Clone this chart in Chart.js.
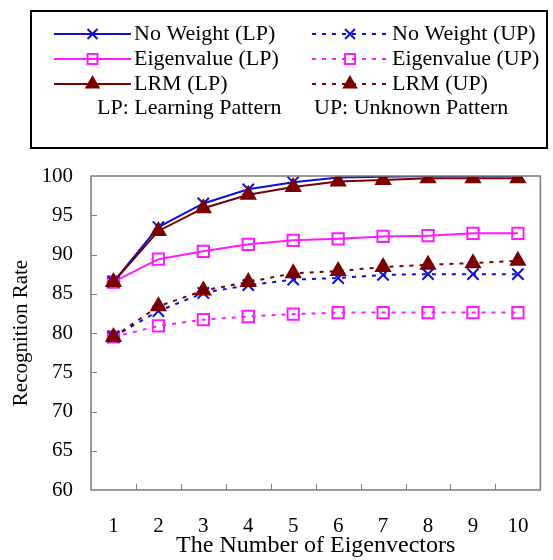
<!DOCTYPE html>
<html><head><meta charset="utf-8">
<script src="https://cdn.jsdelivr.net/npm/chart.js@4.4.1/dist/chart.umd.min.js"></script>
<style>html,body{margin:0;padding:0;background:#fff}#wrap{width:553px;height:560px;position:relative}</style>
</head><body><div id="wrap"><canvas id="c" width="553" height="560"></canvas></div>
<script>
const categories = ['1','2','3','4','5','6','7','8','9','10'];
const noWeightLP   = [86.5, 93.5, 96.5, 98.3, 99.2, 99.8, 99.9, 100, 100, 100];
const eigenLP      = [86.5, 89.4, 90.4, 91.3, 91.8, 92.0, 92.3, 92.4, 92.7, 92.7];
const lrmLP        = [86.5, 93.0, 95.9, 97.6, 98.6, 99.3, 99.5, 99.7, 99.7, 99.7];
const noWeightUP   = [79.5, 82.8, 85.1, 86.1, 86.8, 87.0, 87.4, 87.5, 87.5, 87.5];
const eigenUP      = [79.5, 80.9, 81.7, 82.1, 82.4, 82.6, 82.6, 82.6, 82.6, 82.6];
const lrmUP        = [79.5, 83.4, 85.4, 86.5, 87.6, 87.9, 88.4, 88.7, 88.9, 89.2];
const yMin = 60, yMax = 100, yStep = 5;

const BLUE = '#1010d0', MAG = '#ff1aff', RED = '#7a0000';
const FONT = "'Liberation Serif', 'Times New Roman', serif";
const DASH = [4, 6];

function ds(label, data, color, style, dashed, order) {
  return {
    label, data, order,
    borderColor: color, backgroundColor: style === 'triangle' ? color : '#fff',
    pointBorderColor: color,
    pointBackgroundColor: style === 'triangle' ? color : 'rgba(255,255,255,0)',
    pointStyle: style,
    pointRadius: style === 'crossRot' ? 8 : (style === 'rect' ? 8 : 8),
    pointBorderWidth: 2,
    borderWidth: 2,
    borderDash: dashed ? DASH : [],
    tension: 0, fill: false
  };
}

const datasets = [
  ds('No Weight (LP)', noWeightLP, BLUE, 'crossRot', false, 1),
  ds('No Weight (UP)', noWeightUP, BLUE, 'crossRot', true, 1),
  ds('Eigenvalue (LP)', eigenLP, MAG, 'rect', false, 2),
  ds('Eigenvalue (UP)', eigenUP, MAG, 'rect', true, 2),
  ds('LRM (LP)', lrmLP, RED, 'triangle', false, 0),
  ds('LRM (UP)', lrmUP, RED, 'triangle', true, 0)
];

const framePlugin = {
  id: 'frame',
  afterDraw(chart) {
    const ctx = chart.ctx, a = chart.chartArea;
    const xs = chart.scales.x, ys = chart.scales.y;
    ctx.save();
    ctx.strokeStyle = '#7a7a7a';
    ctx.lineWidth = 1.5;
    ctx.strokeRect(a.left, a.top, a.right - a.left, a.bottom - a.top);
    ctx.lineWidth = 1;
    ctx.beginPath();
    for (let v = yMin + yStep; v < yMax; v += yStep) {
      const y = Math.round(ys.getPixelForValue(v)) + 0.5;
      ctx.moveTo(a.left, y); ctx.lineTo(a.left + 6, y);
    }
    for (let i = 1; i < categories.length; i++) {
      const x = Math.round((xs.getPixelForTick(i - 1) + xs.getPixelForTick(i)) / 2) + 0.5;
      ctx.moveTo(x, a.bottom); ctx.lineTo(x, a.bottom - 6);
    }
    ctx.stroke();
    ctx.restore();
  }
};

const legendPlugin = {
  id: 'boxLegend',
  afterDraw(chart) {
    const ctx = chart.ctx;
    ctx.save();
    ctx.strokeStyle = '#000';
    ctx.lineWidth = 2;
    ctx.strokeRect(31, 11, 516, 137);
    ctx.font = '22px ' + FONT;
    ctx.fillStyle = '#000';
    ctx.textBaseline = 'middle';
    const rows = [34, 59, 84];
    const cols = [{x0: 54, x1: 131, tx: 134}, {x0: 312, x1: 388, tx: 392}];
    const order = [[0, 1], [2, 3], [4, 5]];
    order.forEach((pair, r) => {
      pair.forEach((di, c) => {
        const d = chart.data.datasets[di];
        const col = cols[c], y = rows[r];
        ctx.save();
        ctx.strokeStyle = d.borderColor;
        ctx.lineWidth = 2;
        ctx.setLineDash(d.borderDash);
        ctx.beginPath(); ctx.moveTo(col.x0, y); ctx.lineTo(col.x1, y); ctx.stroke();
        ctx.restore();
        ctx.save();
        ctx.setLineDash([]);
        ctx.strokeStyle = d.borderColor; ctx.fillStyle = d.pointBackgroundColor;
        ctx.lineWidth = 2;
        Chart.helpers.drawPoint(ctx, {pointStyle: d.pointStyle, radius: 7, borderWidth: 2, rotation: 0}, (col.x0 + col.x1) / 2, y);
        ctx.restore();
        ctx.fillStyle = '#000';
        ctx.fillText(d.label, col.tx, y);
      });
    });
    ctx.fillText('LP: Learning Pattern', 97, 108);
    ctx.fillText('UP: Unknown Pattern', 314, 108);
    ctx.restore();
  }
};

new Chart(document.getElementById('c'), {
  type: 'line',
  data: { labels: categories, datasets },
  options: {
    responsive: false, animation: false,
    devicePixelRatio: 1,
    layout: { padding: { top: 176, right: 12, left: 0, bottom: 0 } },
    plugins: { legend: { display: false }, tooltip: { enabled: false } },
    scales: {
      x: {
        offset: true,
        grid: { display: false, drawTicks: false },
        border: { display: false },
        ticks: { color: '#000', font: { family: FONT, size: 21 }, padding: 24, maxRotation: 0 },
        title: { display: true, text: 'The Number of Eigenvectors', color: '#000', font: { family: FONT, size: 24 }, padding: { top: 0, bottom: 0 } },
        afterFit(s) { s.height = 70; }
      },
      y: {
        min: yMin, max: yMax,
        grid: { display: false, drawTicks: false },
        border: { display: false },
        ticks: { stepSize: yStep, color: '#000', font: { family: FONT, size: 21 }, padding: 18 },
        title: { display: true, text: 'Recognition Rate', color: '#000', font: { family: FONT, size: 21 }, padding: { top: 9, bottom: 0 } },
        afterFit(s) { s.width = 91; }
      }
    }
  },
  plugins: [framePlugin, legendPlugin]
});
</script></body></html>
